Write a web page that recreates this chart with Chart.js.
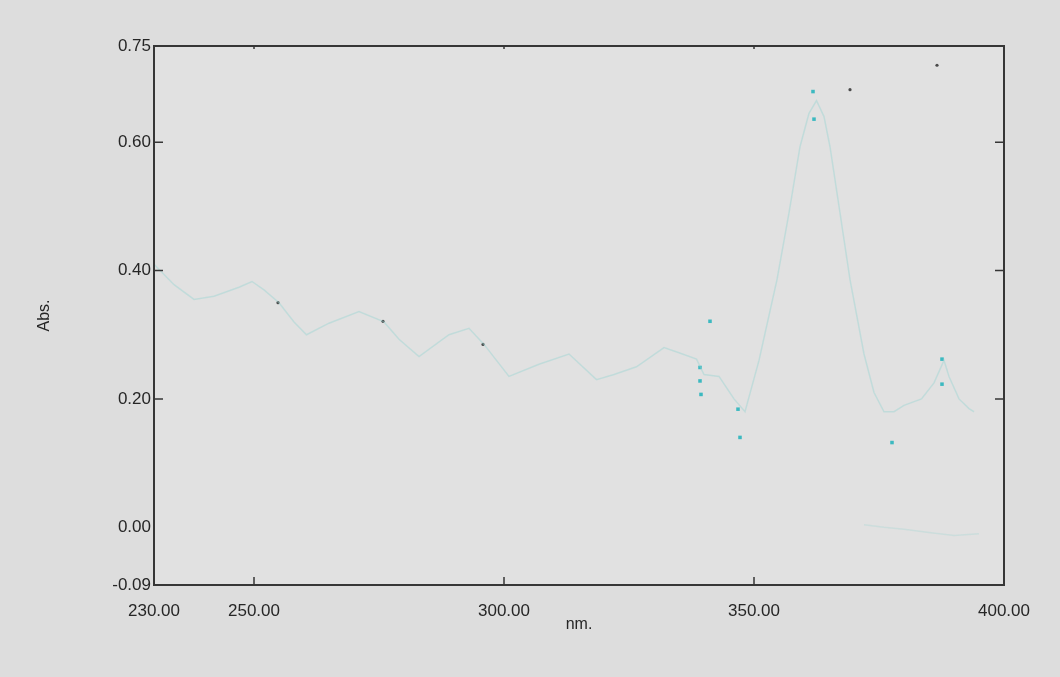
<!DOCTYPE html>
<html>
<head>
<meta charset="utf-8">
<script src="https://cdn.jsdelivr.net/npm/chart.js@4/dist/chart.umd.min.js"></script>
<style>
  html, body { margin: 0; padding: 0; background: #dddddd; }
  #wrap { width: 1060px; height: 677px; }
</style>
</head>
<body>
<div id="wrap"><canvas id="spectrum" width="1060" height="677"></canvas></div>
<script>
// spectrum (nm / Abs.)
const wavelengths = [230, 234, 238, 242, 247, 249.6, 252, 255, 258, 260.5, 265, 271, 276, 279, 283, 289, 293, 296,
  301, 307, 313, 318.5, 322, 326.5, 332, 335, 338.5, 340, 343, 346, 348.2, 351, 353, 354.6, 357, 359.2, 361,
  362.5, 364, 365.2, 367.2, 369.2, 372, 374, 376, 378, 380, 383.5, 386, 388, 389, 391, 393, 394];
const absorbance = [0.41, 0.378, 0.355, 0.36, 0.374, 0.383, 0.37, 0.35, 0.32, 0.30, 0.318, 0.336, 0.32, 0.293, 0.266, 0.30, 0.31, 0.285,
  0.235, 0.254, 0.27, 0.23, 0.238, 0.25, 0.28, 0.272, 0.262, 0.238, 0.235, 0.20, 0.18, 0.26, 0.33, 0.386, 0.49, 0.593, 0.645,
  0.665, 0.64, 0.593, 0.49, 0.386, 0.27, 0.21, 0.18, 0.18, 0.19, 0.20, 0.225, 0.26, 0.235, 0.20, 0.185, 0.18];

// faint trace near zero on the right
const baseWavelengths = [372, 376, 380, 385, 390, 395];
const baseAbsorbance = [0.004, 0.0, -0.003, -0.008, -0.013, -0.01];

// cyan peak marks
const markWavelengths = [339.2, 339.2, 339.4, 341.2, 346.8, 347.2, 361.8, 362.0, 377.6, 387.6, 387.6];
const markAbsorbance = [0.249, 0.228, 0.207, 0.321, 0.184, 0.14, 0.679, 0.636, 0.132, 0.262, 0.223];

// dark specks
const speckWavelengths = [254.8, 275.8, 295.8, 369.2, 386.6];
const speckAbsorbance = [0.35, 0.321, 0.285, 0.682, 0.72];

const xTicks = [230, 250, 300, 350, 400];
const yTicks = [-0.09, 0.00, 0.20, 0.40, 0.60, 0.75];
const xInnerTicks = [250, 300, 350];
const yInnerTicks = [0.20, 0.40, 0.60];

function pares(xs, ys) {
  return xs.map((v, i) => ({ x: v, y: ys[i] }));
}

const fundo = {
  id: "fundo",
  beforeDatasetsDraw(chart) {
    const { ctx, chartArea: a } = chart;
    ctx.save();
    ctx.fillStyle = "#e1e1e1";
    ctx.fillRect(a.left, a.top, a.right - a.left, a.bottom - a.top);
    ctx.restore();
  }
};

const moldura = {
  id: "moldura",
  afterDatasetsDraw(chart) {
    const { ctx, chartArea: a, scales: { x, y } } = chart;
    ctx.save();
    ctx.strokeStyle = "#363636";
    ctx.lineWidth = 2;
    ctx.strokeRect(a.left, a.top, a.right - a.left, a.bottom - a.top);
    ctx.lineWidth = 1.5;
    ctx.beginPath();
    yInnerTicks.forEach(v => {
      const py = y.getPixelForValue(v);
      ctx.moveTo(a.left, py); ctx.lineTo(a.left + 9, py);
      ctx.moveTo(a.right, py); ctx.lineTo(a.right - 9, py);
    });
    xInnerTicks.forEach(v => {
      const px = x.getPixelForValue(v);
      ctx.moveTo(px, a.bottom); ctx.lineTo(px, a.bottom - 8);
      ctx.moveTo(px, a.top); ctx.lineTo(px, a.top + 3);
    });
    ctx.stroke();
    ctx.restore();
  }
};

const fonte = "'Liberation Sans', Arial, sans-serif";

new Chart(document.getElementById("spectrum"), {
  type: "scatter",
  data: {
    datasets: [
      {
        data: pares(wavelengths, absorbance),
        showLine: true,
        borderColor: "rgba(150, 212, 210, 0.42)",
        borderWidth: 1.5,
        pointRadius: 0
      },
      {
        data: pares(baseWavelengths, baseAbsorbance),
        showLine: true,
        borderColor: "rgba(150, 212, 210, 0.28)",
        borderWidth: 1.5,
        pointRadius: 0
      },
      {
        data: pares(markWavelengths, markAbsorbance),
        backgroundColor: "#3cb9c0",
        borderWidth: 0,
        pointStyle: "rect",
        pointRadius: 2.5
      },
      {
        data: pares(speckWavelengths, speckAbsorbance),
        backgroundColor: "#4a4a4a",
        borderWidth: 0,
        pointRadius: 1.6
      }
    ]
  },
  options: {
    responsive: false,
    animation: false,
    devicePixelRatio: 1,
    layout: { padding: { left: 0, top: 46, right: 56, bottom: 0 } },
    plugins: { legend: { display: false }, tooltip: { enabled: false } },
    scales: {
      x: {
        type: "linear",
        min: 230,
        max: 400,
        afterBuildTicks: s => { s.ticks = xTicks.map(v => ({ value: v })); },
        afterFit: s => { s.height = 92; },
        grid: { display: false },
        border: { display: false },
        ticks: {
          color: "#262626",
          font: { family: fonte, size: 17 },
          padding: 8,
          maxRotation: 0,
          autoSkip: false,
          callback: v => v.toFixed(2)
        },
        title: {
          display: true,
          text: "nm.",
          color: "#262626",
          font: { family: fonte, size: 16 },
          padding: { top: 0, bottom: 43 }
        }
      },
      y: {
        min: -0.09,
        max: 0.75,
        afterBuildTicks: s => { s.ticks = yTicks.map(v => ({ value: v })); },
        afterFit: s => { s.width = 154; },
        grid: {
          drawTicks: false,
          lineWidth: 1.5,
          color: c => (c.tick && c.tick.value === 0 ? "#363636" : "rgba(0,0,0,0)")
        },
        border: { display: false },
        ticks: {
          color: "#262626",
          font: { family: fonte, size: 17 },
          padding: 3,
          autoSkip: false,
          callback: v => v.toFixed(2)
        },
        title: {
          display: true,
          text: "Abs.",
          color: "#262626",
          font: { family: fonte, size: 16 },
          padding: { top: 35, bottom: 0 }
        }
      }
    }
  },
  plugins: [fundo, moldura]
});
</script>
</body>
</html>
